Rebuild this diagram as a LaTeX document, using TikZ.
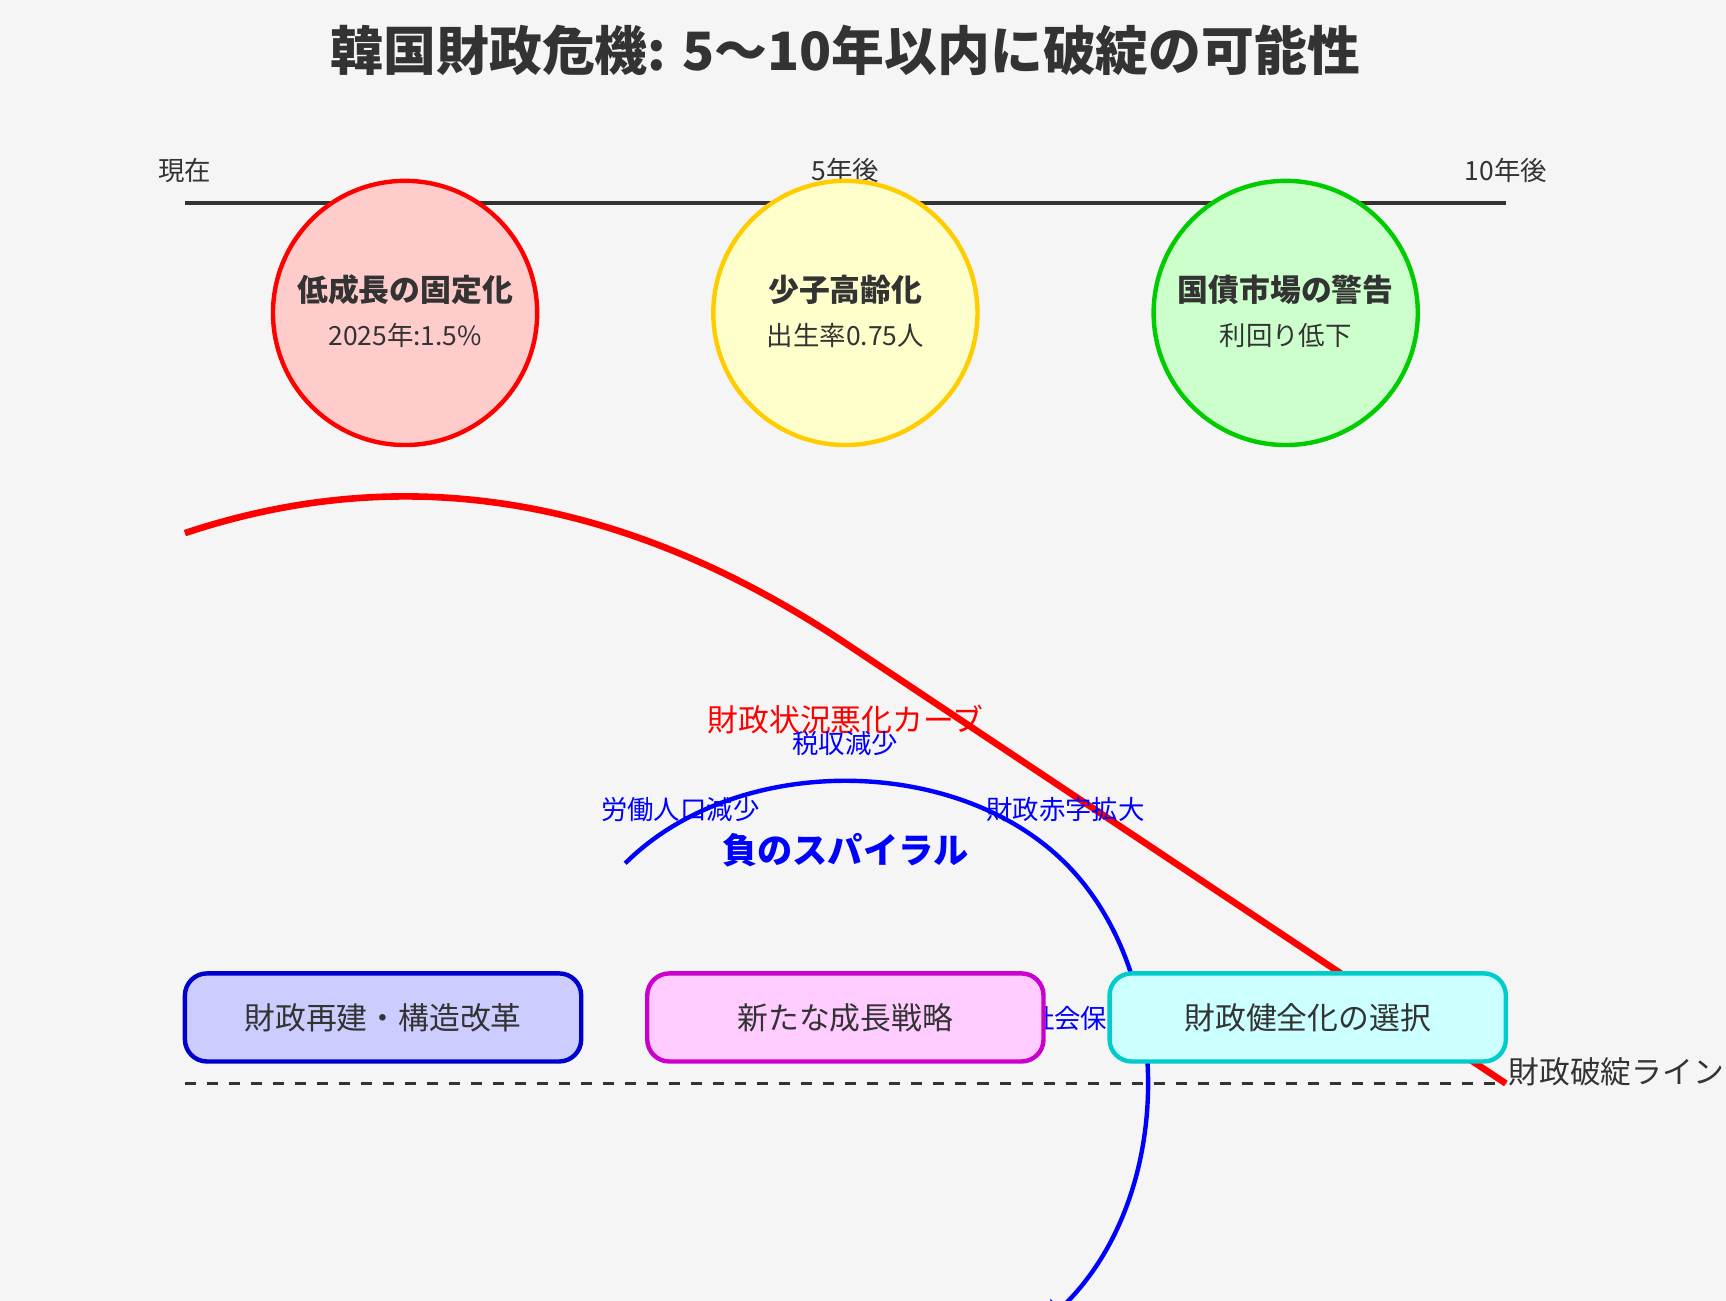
\documentclass[tikz,border=0pt]{standalone}
\usepackage{fontspec}
\setmainfont{Noto Sans CJK JP}
\usepackage{tikz}
\usetikzlibrary{arrows.meta, positioning, calc}
\usepackage{xcolor}
\definecolor{bgGray}{HTML}{F5F5F5}
\definecolor{textGray}{HTML}{333333}
\definecolor{growthRed}{HTML}{FF0000}
\definecolor{growthFill}{HTML}{FFCCCC}
\definecolor{agingYellow}{HTML}{FFCC00}
\definecolor{agingFill}{HTML}{FFFFCC}
\definecolor{bondGreen}{HTML}{00CC00}
\definecolor{bondFill}{HTML}{CCFFCC}
\definecolor{spiralBlue}{HTML}{0000FF}
\definecolor{rebuildBlue}{HTML}{0000CC}
\definecolor{rebuildFill}{HTML}{CCCCFF}
\definecolor{strategyMagenta}{HTML}{CC00CC}
\definecolor{strategyFill}{HTML}{FFCCFF}
\definecolor{consolidCyan}{HTML}{00CCCC}
\definecolor{consolidFill}{HTML}{CCFFFF}

\begin{document}
\begin{tikzpicture}[
    x=1pt, y=-1pt,
    % Text styles
    heading/.style={
        font=\fontsize{24}{28}\selectfont\bfseries,
        text=textGray,
        anchor=base,
        inner sep=0pt
    },
    timelabel/.style={
        font=\fontsize{12}{14}\selectfont,
        text=textGray,
        anchor=base,
        inner sep=0pt
    },
    factortitle/.style={
        font=\fontsize{14}{16}\selectfont\bfseries,
        text=textGray,
        anchor=base,
        inner sep=0pt
    },
    factorsub/.style={
        font=\fontsize{12}{14}\selectfont,
        text=textGray,
        anchor=base,
        inner sep=0pt
    },
    curvelabel/.style={
        font=\fontsize{14}{16}\selectfont,
        text=#1,
        anchor=base,
        inner sep=0pt
    },
    spirallabel/.style={
        font=\fontsize{12}{14}\selectfont,
        text=spiralBlue,
        anchor=base,
        inner sep=0pt
    },
    spiraltitle/.style={
        font=\fontsize{16}{18}\selectfont\bfseries,
        text=spiralBlue,
        anchor=base,
        inner sep=0pt
    },
    % Factor circle style
    factor/.style 2 args={
        circle,
        minimum size=120pt,
        inner sep=0pt,
        outer sep=0pt,
        line width=2pt,
        draw=#1,
        fill=#2
    },
    % Option box style
    choicebox/.style 2 args={
        rectangle,
        rounded corners=10pt,
        minimum width=180pt,
        minimum height=40pt,
        inner sep=0pt,
        outer sep=0pt,
        line width=2pt,
        draw=#1,
        fill=#2,
        font=\fontsize{14}{16}\selectfont,
        text=textGray
    },
    % Line styles
    timeline/.style={line width=2pt, draw=textGray},
    worsening/.style={line width=3pt, draw=growthRed},
    bankrupt/.style={line width=1.2pt, draw=textGray, dash pattern=on 5pt off 5pt},
    spiral/.style={
        -{Latex[length=8pt, width=14pt]},
        line width=2pt,
        draw=spiralBlue,
        fill=none
    }
]

% ============================================
% CANVAS
% ============================================
\useasboundingbox (16,7.85) rectangle (800,598.8);
\fill[bgGray] (16,7.85) rectangle (800,598.8);

% Title
\node[heading] (title) at (400,40) {韓国財政危機: 5〜10年以内に破綻の可能性};

% ============================================
% TIMELINE
% ============================================
\coordinate (tlStart) at (100,100);
\coordinate (tlMid) at (400,100);
\coordinate (tlEnd) at (700,100);
\draw[timeline] (tlStart) -- (tlEnd);

\node[timelabel] (now) at ([yshift=10pt]tlStart) {現在};
\node[timelabel] (fiveYears) at ([yshift=10pt]tlMid) {5年後};
\node[timelabel] (tenYears) at ([yshift=10pt]tlEnd) {10年後};

% ============================================
% RISK FACTORS
% ============================================
% Low growth
\node[factor={growthRed}{growthFill}] (growth) at (200,150) {};
\node[factortitle] (growthTitle) at ([yshift=5pt]growth.center) {低成長の固定化};
\node[factorsub] (growthSub) at ([yshift=-15pt]growth.center) {2025年:1.5\%};

% Ageing
\node[factor={agingYellow}{agingFill}] (aging) at (400,150) {};
\node[factortitle] (agingTitle) at ([yshift=5pt]aging.center) {少子高齢化};
\node[factorsub] (agingSub) at ([yshift=-15pt]aging.center) {出生率0.75人};

% Bond market
\node[factor={bondGreen}{bondFill}] (bond) at (600,150) {};
\node[factortitle] (bondTitle) at ([yshift=5pt]bond.center) {国債市場の警告};
\node[factorsub] (bondSub) at ([yshift=-15pt]bond.center) {利回り低下};

% ============================================
% FISCAL CURVE
% ============================================
\coordinate (curveStart) at (100,250);
\coordinate (curveMid) at (400,300);
\coordinate (curveEnd) at (700,500);
\draw[worsening] (curveStart) .. controls (200,216.67) and (300,233.33) .. (curveMid) -- (curveEnd);

\node[curvelabel=growthRed] (curveLabel) at (400,340) {財政状況悪化カーブ};

% Bankruptcy line
\coordinate (lineStart) at (100,500);
\coordinate (lineEnd) at (700,500);
\draw[bankrupt] (lineStart) -- (lineEnd);
\node[curvelabel=textGray, anchor=base west] (lineLabel) at ([xshift=1pt]lineEnd) {財政破綻ライン};

% ============================================
% NEGATIVE SPIRAL
% ============================================
\coordinate (spiralStart) at (300,400);
\coordinate (spiralJoin) at (500,400);
\coordinate (spiralTip) at (492,608);
\draw[spiral] (spiralStart) .. controls (350,350) and (450,350) .. (spiralJoin)
    .. controls (550,450) and (550,550) .. (500,600) -- (spiralTip);

\node[spirallabel] (taxLabel) at (400,350) {税収減少};
\node[spirallabel] (laborLabel) at (325,380) {労働人口減少};
\node[spirallabel] (deficitLabel) at (500,380) {財政赤字拡大};
\node[spirallabel] (welfareLabel) at (525,475) {社会保障費増大};
\node[spiraltitle] (spiralTitle) at (400,400) {負のスパイラル};

% ============================================
% POLICY OPTIONS
% ============================================
\node[choicebox={rebuildBlue}{rebuildFill}] (rebuild) at (190,470) {財政再建・構造改革};
\node[choicebox={strategyMagenta}{strategyFill}, right=30pt of rebuild] (strategy) {新たな成長戦略};
\node[choicebox={consolidCyan}{consolidFill}, right=30pt of strategy] (consolidate) {財政健全化の選択};

\end{tikzpicture}
\end{document}
